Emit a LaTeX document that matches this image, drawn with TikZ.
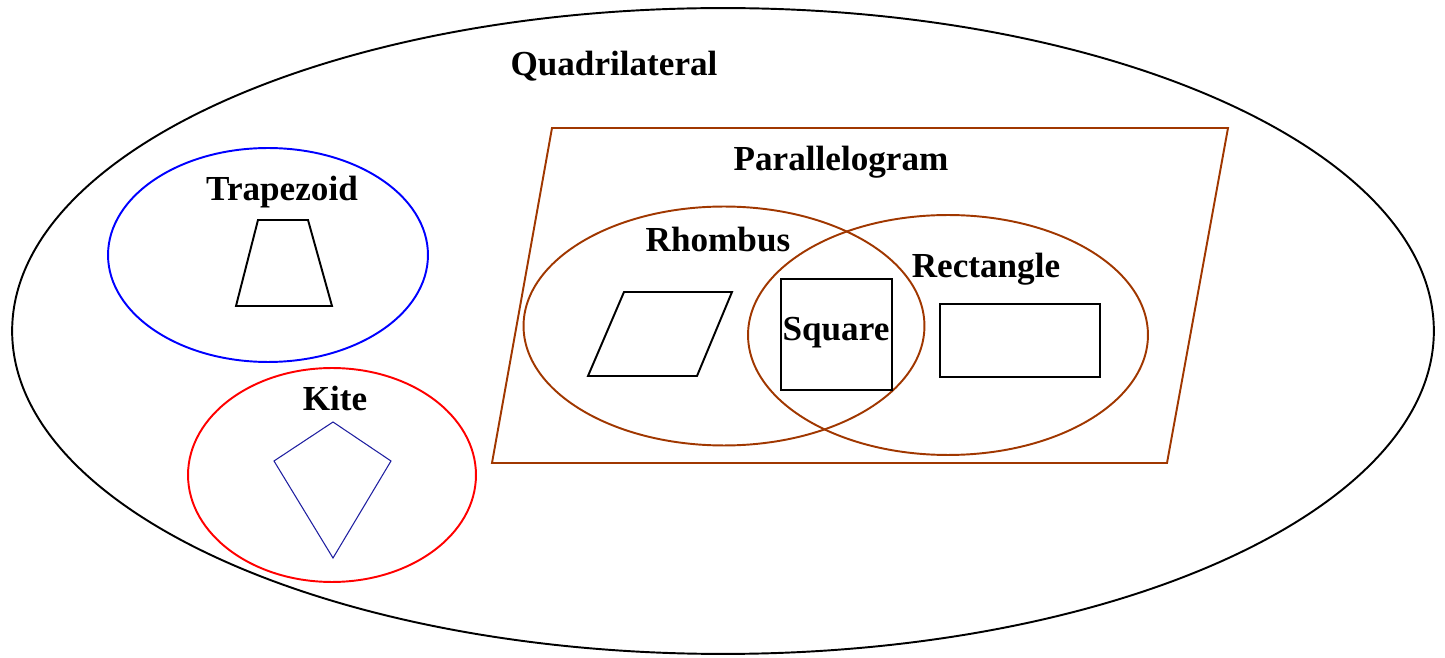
\documentclass[tikz,border=0pt]{standalone}
\usepackage{fontspec}
\setmainfont{Liberation Serif}
\definecolor{brn}{RGB}{160,55,0}
\definecolor{kiteblue}{RGB}{30,30,160}
\begin{document}
\begin{tikzpicture}[x=0.02cm,y=-0.02cm,
  lbl/.style={font=\fontsize{20}{24}\selectfont\bfseries, anchor=base, inner sep=0pt},
  blk/.style={draw=black, line width=1.1pt, line join=miter},
  brline/.style={draw=brn, line width=1.1pt}]
\useasboundingbox (0,0) rectangle (1445,658);
% outer
\draw[blk] (723,331) ellipse [x radius=14.22cm, y radius=6.46cm];
\node[lbl] (quad) at (614,76) {Quadrilateral};
% trapezoid
\draw[draw=blue, line width=1.1pt] (268,255) ellipse [x radius=3.2cm, y radius=2.14cm];
\node[lbl] (trap) at (282,201) {Trapezoid};
\draw[blk] (258,220) -- (308,220) -- (332,306) -- (236,306) -- cycle;
% kite
\draw[draw=red, line width=1.1pt] (332,475) ellipse [x radius=2.88cm, y radius=2.14cm];
\node[lbl] (kite) at (335,411) {Kite};
\draw[draw=kiteblue, line width=0.6pt] (333,422) -- (391,461) -- (333,558) -- (274,461) -- cycle;
% parallelogram
\draw[brline] (552,128) -- (1228,128) -- (1167,463) -- (492,463) -- cycle;
\node[lbl] (para) at (841,171) {Parallelogram};
% rhombus
\draw[brline] (724,326) ellipse [x radius=4.01cm, y radius=2.39cm];
\node[lbl] (rhom) at (718,252) {Rhombus};
\draw[blk] (624,292) -- (732,292) -- (697,376) -- (588,376) -- cycle;
% rectangle
\draw[brline] (948,335) ellipse [x radius=4.0cm, y radius=2.4cm];
\node[lbl] (rect) at (986,278) {Rectangle};
\draw[blk] (940,304) rectangle (1100,377);
% square
\draw[blk] (781,279) rectangle (892,390);
\node[lbl] (sq) at (836,341) {Square};
\end{tikzpicture}
\end{document}
